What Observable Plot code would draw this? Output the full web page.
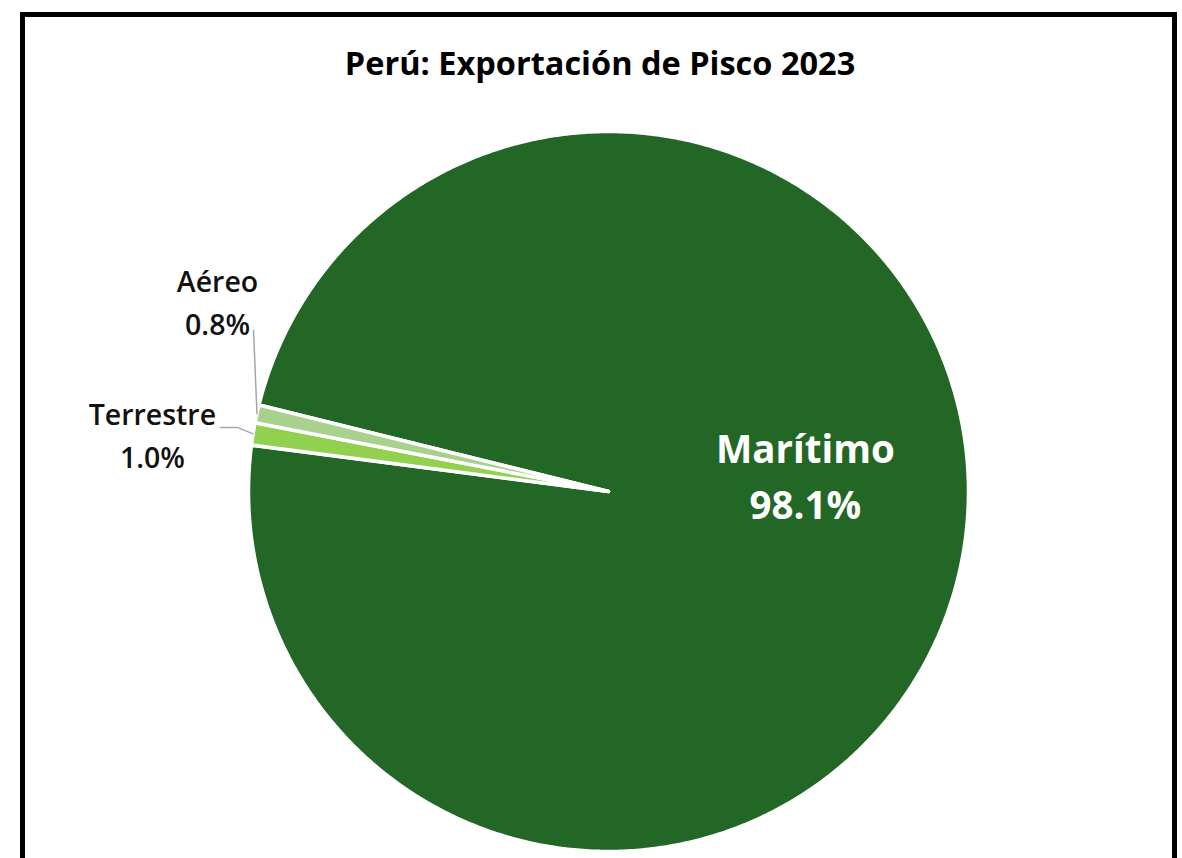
<!DOCTYPE html>
<html>
<head>
<meta charset="utf-8">
<script src="https://cdn.jsdelivr.net/npm/d3@7"></script>
<script src="https://cdn.jsdelivr.net/npm/@observablehq/plot@0.6"></script>
<style>
  html, body { margin: 0; padding: 0; background: #fff; width: 1182px; height: 858px; overflow: hidden; }
  body { position: relative; font-family: "Open Sans", "Noto Sans", sans-serif; }
  #frame { position: absolute; left: 20px; top: 12px; width: 1147px; height: 900px; border: 5px solid #000; }
  #title { position: absolute; top: 40px; left: 0; width: 1200px; text-align: center; font: bold 32.5px "Open Sans", "Noto Sans", sans-serif; color: #000; }
  #chart { position: absolute; left: 0; top: 0; }
  #chart svg { background: transparent; }
</style>
</head>
<body>
<div id="frame"></div>
<div id="title">Perú: Exportación de Pisco 2023</div>
<div id="chart"></div>
<script>
// ---- data ----
const categories = ["Marítimo", "Terrestre", "Aéreo"];
const shares = [98.1, 1.0, 0.8];

// ---- styling / layout ----
const sliceColors = ["#236727", "#92d050", "#a9d18e"];
const startDeg = 283.9; // where the first slice starts, clockwise from 12 o'clock
// label anchors in pie-radius units (x right, y down)
const labelAnchor = { "Marítimo": [0.547, -0.05], "Terrestre": [-1.267, -0.163], "Aéreo": [-1.086, -0.533] };
const leaderStart = { "Terrestre": [[-1.078, -0.178], [-1.031, -0.178]], "Aéreo": [[-0.986, -0.447]] };

const start = startDeg * Math.PI / 180;
const arcs = d3.pie().sort(null).startAngle(start).endAngle(start + 2 * Math.PI)(shares);
const pt = (a, r = 1) => [r * Math.sin(a), -r * Math.cos(a)];

const features = arcs.map((a, i) => {
  const ring = [[0, 0]];
  const n = Math.max(2, Math.ceil((a.endAngle - a.startAngle) / (Math.PI / 360)));
  for (let k = 0; k <= n; k++) ring.push(pt(a.startAngle + (a.endAngle - a.startAngle) * k / n));
  ring.push([0, 0]);
  return { type: "Feature", properties: { name: categories[i] }, geometry: { type: "Polygon", coordinates: [ring] } };
});

const labels = categories.map((c, i) => ({
  name: c,
  x: labelAnchor[c][0],
  y: labelAnchor[c][1],
  text: `${c}\n${shares[i].toFixed(1)}%`
}));

const leaders = [];
categories.forEach((c, i) => {
  if (!leaderStart[c]) return;
  const a = arcs[i];
  const mid = pt((a.startAngle + a.endAngle) / 2, 1.0);
  leaderStart[c].forEach(p => leaders.push({ name: c, x: p[0], y: p[1] }));
  leaders.push({ name: c, x: mid[0], y: mid[1] });
});

const chart = Plot.plot({
  width: 1182,
  height: 858,
  marginLeft: 248,
  marginRight: 214,
  marginTop: 131,
  marginBottom: 7,
  style: { background: "transparent", overflow: "visible" },
  projection: { type: "identity", domain: { type: "MultiPoint", coordinates: [[-1, -1], [1, 1]] }, clip: false },
  color: { domain: categories, range: sliceColors },
  marks: [
    Plot.geo(features, { fill: d => d.properties.name, stroke: "white", strokeWidth: 3.5, strokeLinejoin: "round" }),
    Plot.line(leaders, { x: "x", y: "y", z: "name", stroke: "#a6a6a6", strokeWidth: 1.5 }),
    Plot.text(labels.filter(d => d.name !== "Marítimo"), {
      x: "x", y: "y", text: "text", fill: "#111", fontSize: 28.5, fontWeight: 600, lineHeight: 1.52,
      fontFamily: "'Open Sans', 'Noto Sans', sans-serif"
    }),
    Plot.text(labels.filter(d => d.name === "Marítimo"), {
      x: "x", y: "y", text: "text", fill: "#fff", fontSize: 38.5, fontWeight: "bold", lineHeight: 1.45,
      fontFamily: "'Open Sans', 'Noto Sans', sans-serif"
    })
  ]
});
document.getElementById("chart").appendChild(chart);
</script>
</body>
</html>
